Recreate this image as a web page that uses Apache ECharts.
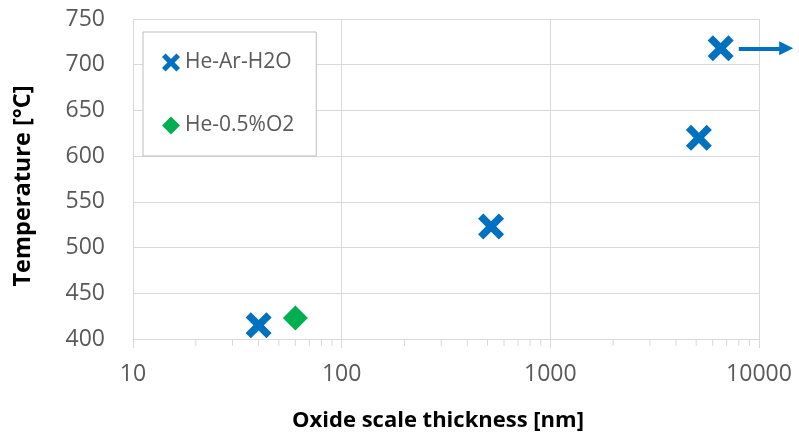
<!DOCTYPE html>
<html>
<head>
<meta charset="utf-8">
<script src="https://cdn.jsdelivr.net/npm/echarts@6/dist/echarts.min.js"></script>
<style>html,body{margin:0;padding:0;background:#fff}#c{width:799px;height:433px}</style>
</head>
<body>
<div id="c"></div>
<script>
// Data
const seriesNames = ['He-Ar-H2O', 'He-0.5%O2'];
const heArH2O = [[40, 415], [520, 523], [5150, 620], [6550, 718]];
const heO2 = [[60, 423]];
const arrowFrom = [8000, 718];
const arrowTo = [13500, 718];
const xTicks = [10, 100, 1000, 10000];
const yTicks = [400, 450, 500, 550, 600, 650, 700, 750];
const minorTickValues = [20,30,40,50,60,70,80,90,200,300,400,500,600,700,800,900,2000,3000,4000,5000,6000,7000,8000,9000];

const xPath = 'path://M0,2 L2,0 L5,3 L8,0 L10,2 L7,5 L10,8 L8,10 L5,7 L2,10 L0,8 L3,5 Z';
const BLUE = '#0070C0', GREEN = '#00B050', GRID = '#d9d9d9', LABEL = '#595959';
const FONT = '"Open Sans", "Noto Sans", sans-serif';

const chart = echarts.init(document.getElementById('c'), null, {renderer: 'canvas'});
chart.setOption({
  animation: false,
  backgroundColor: '#fff',
  grid: {left: 133, right: 40, top: 19, bottom: 94, containLabel: false, outerBoundsMode: 'none'},
  legend: {
    orient: 'vertical', left: 143, top: 32,
    padding: [20, 22, 20, 19],
    itemGap: 42, itemWidth: 18, itemHeight: 18,
    borderColor: '#bfbfbf', borderWidth: 1, backgroundColor: '#fff',
    textStyle: {fontFamily: FONT, fontSize: 21, color: LABEL},
    data: [
      {name: seriesNames[0], icon: xPath},
      {name: seriesNames[1], icon: 'diamond'}
    ]
  },
  xAxis: {
    type: 'log', logBase: 10, min: xTicks[0], max: xTicks[xTicks.length - 1],
    name: 'Oxide scale thickness [nm]', nameLocation: 'middle', nameGap: 71,
    nameTextStyle: {fontFamily: FONT, fontSize: 22, fontWeight: 'bold', color: '#000', padding: [0, 16, 0, 0]},
    axisLine: {show: true, lineStyle: {color: GRID, width: 1}},
    axisTick: {show: true, length: 9, lineStyle: {color: GRID}},
    axisLabel: {fontFamily: FONT, fontSize: 23, color: LABEL, margin: 24,
                formatter: v => String(Math.round(v))},
    splitLine: {show: true, lineStyle: {color: GRID, width: 1}}
  },
  yAxis: {
    type: 'value', min: yTicks[0], max: yTicks[yTicks.length - 1], interval: 50,
    name: 'Temperature [°C]', nameLocation: 'middle', nameGap: 98,
    nameTextStyle: {fontFamily: FONT, fontSize: 23.5, fontWeight: 'bold', color: '#000', padding: [0, 14, 0, 0]},
    axisLine: {show: true, lineStyle: {color: GRID, width: 1}},
    axisTick: {show: false},
    axisLabel: {fontFamily: FONT, fontSize: 23, color: LABEL, margin: 28},
    splitLine: {show: true, lineStyle: {color: GRID, width: 1}}
  },
  series: [
    {
      type: 'custom', silent: true, clip: false,
      data: minorTickValues.map(v => [v, yTicks[0]]),
      encode: {x: 0, y: 1},
      renderItem: function (params, api) {
        const p = api.coord([api.value(0), api.value(1)]);
        return {type: 'line', shape: {x1: p[0], y1: p[1], x2: p[0], y2: p[1] + 7},
                style: {stroke: GRID, lineWidth: 1}};
      },
      z: 1
    },
    {
      type: 'lines', coordinateSystem: 'cartesian2d', silent: true, clip: false,
      symbol: ['none', 'triangle'], symbolSize: [14, 14],
      lineStyle: {color: BLUE, width: 4, type: 'solid', opacity: 1},
      data: [{coords: [arrowFrom, arrowTo]}],
      z: 3
    },
    {
      name: seriesNames[0], type: 'scatter', data: heArH2O,
      symbol: xPath, symbolSize: 26, clip: false,
      itemStyle: {color: BLUE, opacity: 1},
      z: 3
    },
    {
      name: seriesNames[1], type: 'scatter', data: heO2,
      symbol: 'diamond', symbolSize: 25, clip: false,
      itemStyle: {color: GREEN, opacity: 1},
      z: 3
    }
  ]
});
</script>
</body>
</html>
